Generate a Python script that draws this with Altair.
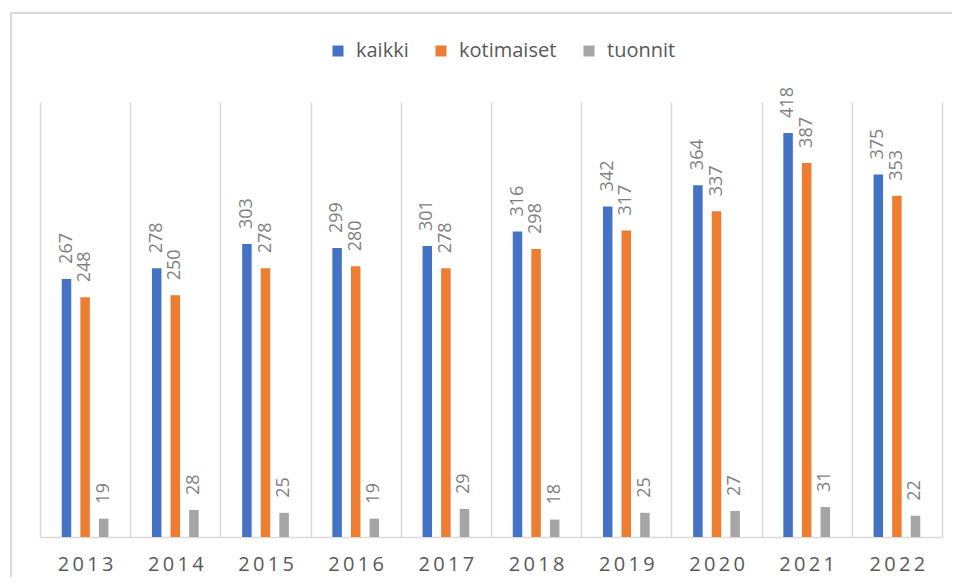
import altair as alt
import pandas as pd

years = ["2013", "2014", "2015", "2016", "2017", "2018", "2019", "2020", "2021", "2022"]
kaikki = [267, 278, 303, 299, 301, 316, 342, 364, 418, 375]
kotimaiset = [248, 250, 278, 280, 278, 298, 317, 337, 387, 353]
tuonnit = [19, 28, 25, 19, 29, 18, 25, 27, 31, 22]

series_names = ["kaikki", "kotimaiset", "tuonnit"]
series_colors = ["#4472C4", "#ED7D31", "#A5A5A5"]

rows = []
for name, vals in zip(series_names, [kaikki, kotimaiset, tuonnit]):
    for y, v in zip(years, vals):
        rows.append({"year": y, "series": name, "value": v})
df = pd.DataFrame(rows)

FONT = "Open Sans"

base = alt.Chart(df).encode(
    x=alt.X(
        "year:N",
        sort=years,
        scale=alt.Scale(paddingInner=0, paddingOuter=0),
        axis=alt.Axis(
            title=None,
            labelAngle=0,
            tickBand="extent",
            grid=True,
            gridColor="#d9d9d9",
            gridWidth=1.5,
            domainColor="#d9d9d9",
            domainWidth=1.5,
            ticks=False,
            labelFont=FONT,
            labelFontSize=20,
            labelColor="#595959",
            labelBaseline="middle",
            labelPadding=27,
            labelExpr="join(split(datum.label, ''), '\u2009')",
        ),
    ),
    xOffset=alt.XOffset(
        "series:N",
        sort=series_names,
        scale=alt.Scale(paddingInner=0.15, paddingOuter=1),
    ),
    y=alt.Y("value:Q", scale=alt.Scale(domain=[0, 450]), axis=None),
)

bars = base.mark_bar(width=9.5).encode(
    color=alt.Color(
        "series:N",
        sort=series_names,
        scale=alt.Scale(domain=series_names, range=series_colors),
        legend=alt.Legend(
            title=None,
            orient="none",
            legendX=288,
            legendY=-61,
            direction="horizontal",
            symbolType="square",
            symbolSize=121,
            symbolStrokeWidth=0,
            labelFont=FONT,
            labelFontSize=20,
            labelColor="#595959",
            labelOffset=8,
            columnPadding=22,
        ),
    )
)

labels = base.mark_text(
    angle=270,
    align="left",
    baseline="middle",
    dx=15,
    font=FONT,
    fontSize=18,
    color="#7f7f7f",
).encode(text="value:Q")

border = alt.Chart(pd.DataFrame({"a": [0]})).mark_rect(
    filled=False, stroke="#d9d9d9", strokeWidth=2
).encode(
    x=alt.value(-29), x2=alt.value(960), y=alt.value(-89), y2=alt.value(520)
)

chart = alt.layer(border, bars, labels).properties(
    width=902,
    height=435,
    autosize=alt.AutoSizeParams(type="none"),
    padding={"left": 32, "top": 94, "right": 10, "bottom": 40},
).configure_view(strokeWidth=0)

chart.save("out.html", embed_options={"renderer": "svg", "actions": False})
